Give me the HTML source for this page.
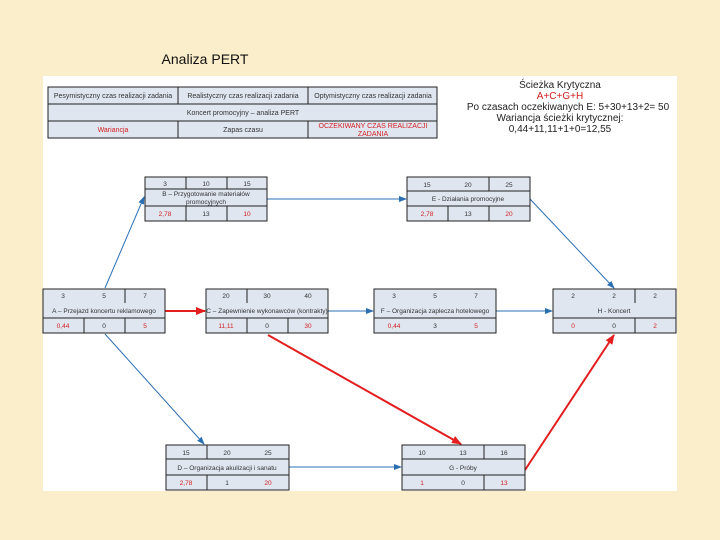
<html><head><style>body{margin:0;background:#fbeecb;width:720px;height:540px;overflow:hidden}</style></head><body>
<svg width="720" height="540" xmlns="http://www.w3.org/2000/svg" font-family="Liberation Sans, DejaVu Sans, sans-serif">
<defs>
<marker id="ab" markerWidth="8" markerHeight="8" refX="7" refY="4" orient="auto" markerUnits="userSpaceOnUse"><path d="M0,1 L8,4 L0,7z" fill="#2b6fb3"/></marker>
<marker id="ar" markerWidth="10" markerHeight="10" refX="9" refY="5" orient="auto" markerUnits="userSpaceOnUse"><path d="M0,1 L10,5 L0,9z" fill="#e41e1e"/></marker>
</defs>
<text x="205" y="64" font-size="14" text-anchor="middle" fill="#111">Analiza PERT</text>
<rect x="43" y="76" width="634" height="415" fill="#fff"/>
<g font-size="7" text-anchor="middle" fill="#333">
<rect x="48" y="87" width="389" height="51" fill="#dfe6f0" stroke="#222" stroke-width="1"/>
<line x1="48" y1="104" x2="437" y2="104" stroke="#222"/><line x1="48" y1="121" x2="437" y2="121" stroke="#222"/>
<line x1="178" y1="87" x2="178" y2="104" stroke="#222"/><line x1="308" y1="87" x2="308" y2="104" stroke="#222"/>
<line x1="178" y1="121" x2="178" y2="138" stroke="#222"/><line x1="308" y1="121" x2="308" y2="138" stroke="#222"/>
<text x="113" y="98">Pesymistyczny czas realizacji zadania</text>
<text x="243" y="98">Realistyczny czas realizacji zadania</text>
<text x="373" y="98">Optymistyczny czas realizacji zadania</text>
<text x="243" y="115">Koncert promocyjny – analiza PERT</text>
<text x="113" y="132" fill="#d42020">Wariancja</text>
<text x="243" y="132">Zapas czasu</text>
<text x="373" y="128" fill="#d42020">OCZEKIWANY CZAS REALIZACJI</text>
<text x="373" y="136" fill="#d42020">ZADANIA</text>
</g>
<g font-size="10" text-anchor="middle" fill="#222">
<text x="560" y="88">Ścieżka Krytyczna</text>
<text x="560" y="99" fill="#d42020">A+C+G+H</text>
<text x="568" y="110">Po czasach oczekiwanych E: 5+30+13+2= 50</text>
<text x="560" y="121">Wariancja ścieżki krytycznej:</text>
<text x="560" y="132">0,44+11,11+1+0=12,55</text>
</g>
<g stroke="#2b6fb3" stroke-width="1" fill="none">
<line x1="105" y1="288" x2="144" y2="197" marker-end="url(#ab)"/>
<line x1="105" y1="334" x2="204" y2="444" marker-end="url(#ab)"/>
<line x1="267" y1="199" x2="406" y2="199" marker-end="url(#ab)"/>
<line x1="530" y1="199" x2="614" y2="288" marker-end="url(#ab)"/>
<line x1="328" y1="311" x2="373" y2="311" marker-end="url(#ab)"/>
<line x1="496" y1="311" x2="552" y2="311" marker-end="url(#ab)"/>
<line x1="289" y1="467" x2="401" y2="467" marker-end="url(#ab)"/>
</g>
<g stroke="#e41e1e" stroke-width="2" fill="none">
<line x1="165" y1="311" x2="205" y2="311" marker-end="url(#ar)"/>
<line x1="268" y1="335" x2="461" y2="444" marker-end="url(#ar)"/>
<line x1="525" y1="470" x2="614" y2="335" marker-end="url(#ar)"/>
</g>
<g font-size="6.5" text-anchor="middle" fill="#333">
<!-- node template: x,y, w=122, h=45 -->
<g transform="translate(145,177)"><rect width="122" height="44" fill="#dfe6f0" stroke="#222"/><line x1="0" y1="12" x2="122" y2="12" stroke="#222"/><line x1="0" y1="29" x2="122" y2="29" stroke="#222"/><line x1="41" y1="0" x2="41" y2="12" stroke="#222"/><line x1="82" y1="0" x2="82" y2="12" stroke="#222"/><line x1="41" y1="29" x2="41" y2="44" stroke="#222"/><line x1="82" y1="29" x2="82" y2="44" stroke="#222"/>
<text x="20" y="9">3</text><text x="61" y="9">10</text><text x="102" y="9">15</text><text x="61" y="19">B – Przygotowanie materiałów</text><text x="61" y="27">promocyjnych</text><text x="20" y="39" fill="#d42020">2,78</text><text x="61" y="39">13</text><text x="102" y="39" fill="#d42020">10</text></g>
<g transform="translate(407,177)"><rect width="123" height="44" fill="#dfe6f0" stroke="#222"/><line x1="0" y1="14" x2="123" y2="14" stroke="#222"/><line x1="0" y1="29" x2="123" y2="29" stroke="#222"/><line x1="82" y1="0" x2="82" y2="14" stroke="#222"/><line x1="41" y1="29" x2="41" y2="44" stroke="#222"/><line x1="82" y1="29" x2="82" y2="44" stroke="#222"/>
<text x="20" y="10">15</text><text x="61" y="10">20</text><text x="102" y="10">25</text><text x="61" y="24">E - Działania promocyjne</text><text x="20" y="39" fill="#d42020">2,78</text><text x="61" y="39">13</text><text x="102" y="39" fill="#d42020">20</text></g>
<g transform="translate(43,289)"><rect width="122" height="44" fill="#dfe6f0" stroke="#222"/><line x1="0" y1="29" x2="122" y2="29" stroke="#222"/><line x1="82" y1="0" x2="82" y2="14" stroke="#222"/><line x1="41" y1="29" x2="41" y2="44" stroke="#222"/><line x1="82" y1="29" x2="82" y2="44" stroke="#222"/>
<text x="20" y="9">3</text><text x="61" y="9">5</text><text x="102" y="9">7</text><text x="61" y="24">A – Przejazd koncertu reklamowego</text><text x="20" y="39" fill="#d42020">0,44</text><text x="61" y="39">0</text><text x="102" y="39" fill="#d42020">5</text></g>
<g transform="translate(206,289)"><rect width="122" height="44" fill="#dfe6f0" stroke="#222"/><line x1="0" y1="29" x2="122" y2="29" stroke="#222"/><line x1="41" y1="0" x2="41" y2="14" stroke="#222"/><line x1="41" y1="29" x2="41" y2="44" stroke="#222"/><line x1="82" y1="29" x2="82" y2="44" stroke="#222"/>
<text x="20" y="9">20</text><text x="61" y="9">30</text><text x="102" y="9">40</text><text x="61" y="24">C – Zapewnienie wykonawców (kontrakty)</text><text x="20" y="39" fill="#d42020">11,11</text><text x="61" y="39">0</text><text x="102" y="39" fill="#d42020">30</text></g>
<g transform="translate(374,289)"><rect width="122" height="44" fill="#dfe6f0" stroke="#222"/><line x1="0" y1="29" x2="122" y2="29" stroke="#222"/>
<text x="20" y="9">3</text><text x="61" y="9">5</text><text x="102" y="9">7</text><text x="61" y="24">F – Organizacja zaplecza hotelowego</text><text x="20" y="39" fill="#d42020">0,44</text><text x="61" y="39">3</text><text x="102" y="39" fill="#d42020">5</text></g>
<g transform="translate(553,289)"><rect width="123" height="44" fill="#dfe6f0" stroke="#222"/><line x1="0" y1="29" x2="123" y2="29" stroke="#222"/><line x1="82" y1="0" x2="82" y2="14" stroke="#222"/><line x1="82" y1="29" x2="82" y2="44" stroke="#222"/>
<text x="20" y="9">2</text><text x="61" y="9">2</text><text x="102" y="9">2</text><text x="61" y="24">H - Koncert</text><text x="20" y="39" fill="#d42020">0</text><text x="61" y="39">0</text><text x="102" y="39" fill="#d42020">2</text></g>
<g transform="translate(166,445)"><rect width="123" height="45" fill="#dfe6f0" stroke="#222"/><line x1="0" y1="14" x2="123" y2="14" stroke="#222"/><line x1="0" y1="30" x2="123" y2="30" stroke="#222"/><line x1="41" y1="0" x2="41" y2="14" stroke="#222"/><line x1="41" y1="30" x2="41" y2="45" stroke="#222"/>
<text x="20" y="10">15</text><text x="61" y="10">20</text><text x="102" y="10">25</text><text x="61" y="25">D – Organizacja akulizacji i sanatu</text><text x="20" y="40" fill="#d42020">2,78</text><text x="61" y="40">1</text><text x="102" y="40" fill="#d42020">20</text></g>
<g transform="translate(402,445)"><rect width="123" height="45" fill="#dfe6f0" stroke="#222"/><line x1="0" y1="14" x2="123" y2="14" stroke="#222"/><line x1="0" y1="30" x2="123" y2="30" stroke="#222"/><line x1="82" y1="0" x2="82" y2="14" stroke="#222"/><line x1="82" y1="30" x2="82" y2="45" stroke="#222"/>
<text x="20" y="10">10</text><text x="61" y="10">13</text><text x="102" y="10">16</text><text x="61" y="25">G - Próby</text><text x="20" y="40" fill="#d42020">1</text><text x="61" y="40">0</text><text x="102" y="40" fill="#d42020">13</text></g>
</g>
</svg>
</body></html>
